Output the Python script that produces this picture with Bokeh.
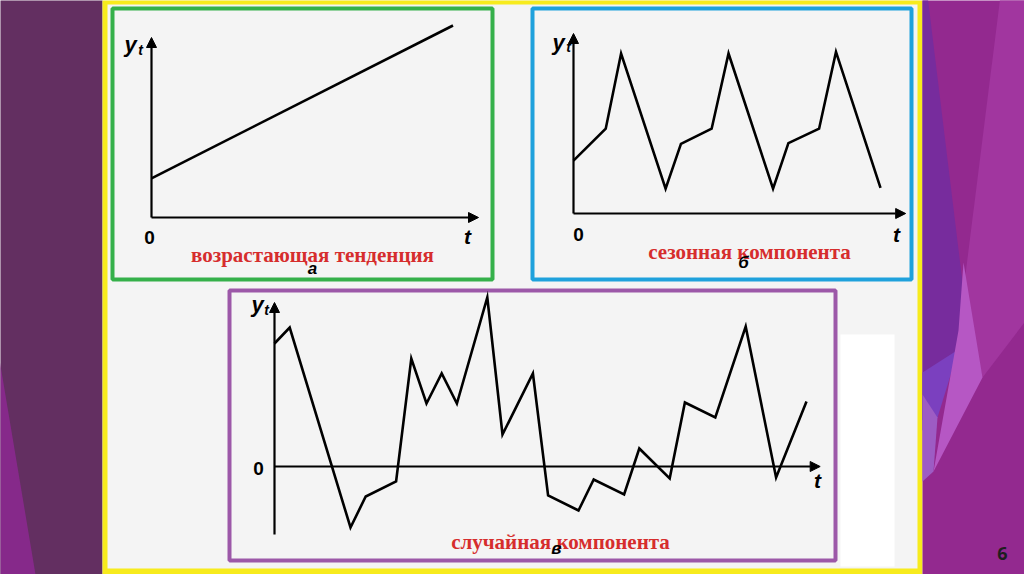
from bokeh.plotting import figure
from bokeh.models import Range1d, Arrow, NormalHead
from bokeh.core.properties import value
from bokeh.embed import file_html
from bokeh.resources import INLINE

# ---------------- data ----------------
trend_t = [0.0, 10.05]
trend_y = [2.45, 12.0]

season_t = [0.0, 1.05, 1.55, 3.0, 3.5, 4.5, 5.05, 6.5, 7.0, 8.0, 8.55, 10.0]
season_y = [3.3, 5.3, 10.0, 1.55, 4.35, 5.3, 10.0, 1.55, 4.4, 5.3, 10.1, 1.6]

random_t = [0, 1, 5, 6, 8, 9, 10, 11, 12, 14, 15, 17, 18, 20, 21, 23, 24, 26, 27, 29, 31, 33, 35]
random_y = [12.3, 13.9, -6.1, -3.0, -1.5, 10.8, 6.3, 9.3, 6.3, 16.9, 3.2, 9.3,
            -2.9, -4.4, -1.3, -2.8, 1.8, -1.2, 6.4, 4.9, 14.0, -1.1, 6.5]

panel_titles = ["возрастающая тенденция", "сезонная компонента", "случайная компонента"]
panel_letters = ["а", "б", "в"]
axis_y_name = "y"
axis_y_sub = "t"
axis_x_name = "t"
zero_label = "0"
page_number = "6"

# ---------------- layout (screen pixels) ----------------
W, H = 1024, 574
X0, Y0 = 0, 0

p = figure(width=W, height=H, output_backend="svg", toolbar_location=None,
           x_range=Range1d(X0, X0 + W), y_range=Range1d(Y0 + H, Y0),
           min_border=0, outline_line_color=None)
p.axis.visible = False
p.grid.visible = False
p.background_fill_color = "#f4f4f4"
p.border_fill_color = "#f4f4f4"

# slide background
p.quad(left=[-5], right=[102], top=[-5], bottom=[580], fill_color="#632f61", line_color=None)
p.patch([-5, -5, 36], [335, 580, 580], fill_color="#86298a", line_color=None)
p.quad(left=[102], right=[922], top=[-5], bottom=[580], fill_color="#f7eb1d", line_color=None)
p.quad(left=[107], right=[917], top=[4], bottom=[568], fill_color="#f4f4f4", line_color=None)
p.quad(left=[840], right=[894], top=[334], bottom=[566], fill_color="#ffffff", line_color=None)
p.quad(left=[922], right=[1030], top=[-5], bottom=[580], fill_color="#93298f", line_color=None)
p.patch([922, 927, 963, 958, 922], [-5, -5, 290, 350, 420], fill_color="#772c9d", line_color=None)
p.patch([1000, 1030, 1030, 982, 963], [-5, -5, 314, 377, 290], fill_color="#a1369f", line_color=None)
p.patch([922, 958, 937, 922], [372, 349, 417, 430], fill_color="#7b40bf", line_color=None)
p.patch([922, 937, 933, 922], [394, 417, 471, 481], fill_color="#9d5cc4", line_color=None)
p.patch([963, 982, 933, 958], [262, 377, 471, 330], fill_color="#b657c4", line_color=None)

# panel frames
frames = [(112, 492, 8, 279, "#35b04a"), (532, 911, 8, 279, "#1fa1dc"), (229, 835, 290, 560, "#9c58a8")]
for l, r, t, b, c in frames:
    p.quad(left=[l], right=[r], top=[t], bottom=[b], fill_color=None, line_color=c, line_width=4)

# panel coordinate systems: origin pixel, pixels per unit, axis extents (data units)
panels = [
    dict(name="a", ox=151, oy=217, ux=30.0, uy=16.0, xlen=10.9, ymin=0.0, ymax=11.25,
         t=trend_t, y=trend_y),
    dict(name="b", ox=573, oy=213, ux=30.7, uy=16.0, xlen=10.82, ymin=0.0, ymax=11.25,
         t=season_t, y=season_y),
    dict(name="c", ox=274, oy=466, ux=15.2, uy=10.0, xlen=35.9, ymin=-6.8, ymax=16.4,
         t=random_t, y=random_y),
]

for pn in panels:
    xn, yn = "x_" + pn["name"], "y_" + pn["name"]
    p.extra_x_ranges[xn] = Range1d((X0 - pn["ox"]) / pn["ux"], (X0 + W - pn["ox"]) / pn["ux"])
    p.extra_y_ranges[yn] = Range1d((pn["oy"] - (Y0 + H)) / pn["uy"], (pn["oy"] - Y0) / pn["uy"])
    p.add_layout(Arrow(end=NormalHead(size=10, fill_color="black", line_color="black", line_width=1),
                       x_start=0, y_start=0, x_end=pn["xlen"], y_end=0,
                       line_width=2.2, line_color="black", x_range_name=xn, y_range_name=yn))
    p.add_layout(Arrow(end=NormalHead(size=10, fill_color="black", line_color="black", line_width=1),
                       x_start=0, y_start=pn["ymin"], x_end=0, y_end=pn["ymax"],
                       line_width=2.2, line_color="black", x_range_name=xn, y_range_name=yn))
    p.line(pn["t"], pn["y"], line_color="black", line_width=2.6, line_join="miter",
           x_range_name=xn, y_range_name=yn)

# axis labels (screen positions)
lab_y = [(130, 44), (558, 42), (257, 304)]
lab_sub = [(140, 49), (568, 46), (266, 309)]
lab_zero = [(149, 237), (578, 234), (258, 468)]
lab_t = [(467, 236), (896, 234), (817, 480)]
big_font = value("Liberation Sans")

p.text(x=[v[0] for v in lab_y], y=[v[1] for v in lab_y], text=[axis_y_name] * 3,
       text_font=big_font, text_font_size="22px", text_font_style="bold italic",
       text_align="center", text_baseline="middle", text_color="black")
p.text(x=[v[0] for v in lab_sub], y=[v[1] for v in lab_sub], text=[axis_y_sub] * 3,
       text_font=big_font, text_font_size="14px", text_font_style="bold italic",
       text_align="center", text_baseline="middle", text_color="black")
p.text(x=[v[0] for v in lab_zero], y=[v[1] for v in lab_zero], text=[zero_label] * 3,
       text_font=big_font, text_font_size="19px", text_font_style="bold",
       text_align="center", text_baseline="middle", text_color="black")
p.text(x=[v[0] for v in lab_t], y=[v[1] for v in lab_t], text=[axis_x_name] * 3,
       text_font=big_font, text_font_size="21px", text_font_style="bold italic",
       text_align="center", text_baseline="middle", text_color="black")

# red captions and letters
cap_pos = [(312, 254), (749, 251), (560, 541)]
p.text(x=[v[0] for v in cap_pos], y=[v[1] for v in cap_pos], text=panel_titles,
       text_font=value("Liberation Serif"), text_font_size="21px", text_font_style="bold",
       text_align="center", text_baseline="alphabetic", text_color="#d62d2d")
let_pos = [(312, 268), (743, 262), (556, 548)]
p.text(x=[v[0] for v in let_pos], y=[v[1] for v in let_pos], text=panel_letters,
       text_font=big_font, text_font_size="17px", text_font_style="bold italic",
       text_align="center", text_baseline="middle", text_color="black")

p.text(x=[1002], y=[553], text=[page_number], text_font=value("Open Sans"),
       text_font_size="18px", text_font_style="bold", text_align="center",
       text_baseline="middle", text_color="#1e1e1e")

open("out.html", "w").write(file_html(p, INLINE))
